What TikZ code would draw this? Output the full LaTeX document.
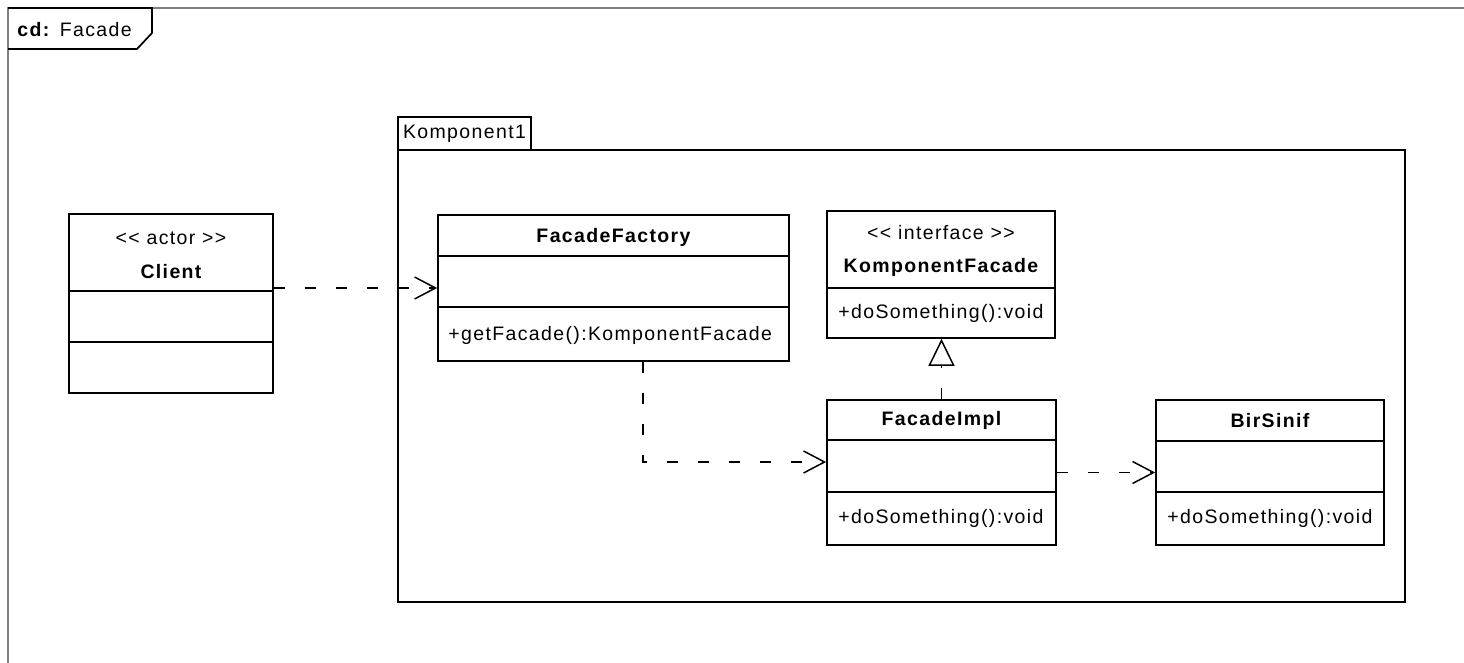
\documentclass[tikz,border=0pt]{standalone}
\usepackage{fontspec}
\setmainfont[LetterSpace=7]{Liberation Sans}
\usetikzlibrary{arrows.meta, positioning}

\begin{document}
\begin{tikzpicture}[
  x=0.5pt, y=-0.5pt,
  font=\fontsize{9.75pt}{12pt}\selectfont,
  cls/.style={draw, line width=0.85pt, fill=white, inner sep=1pt},
  sep/.style={line width=0.85pt},
  title/.style={font=\fontsize{9.75pt}{12pt}\selectfont\bfseries, inner sep=1pt},
  stereo/.style={inner sep=1pt},
  op/.style={anchor=west, inner sep=1pt},
  dep/.style={line width=0.85pt, dash pattern=on 5.5pt off 10pt,
              -{Straight Barb[length=10.5pt, width=11pt, line width=0.75pt]}},
  real/.style={line width=0.85pt, dash pattern=on 5.5pt off 10pt,
              -{Triangle[open, length=13.5pt, width=13pt, line width=0.75pt]}},
]
\useasboundingbox (0,0) rectangle (1464,663);

\draw[black!50, line width=1pt] (8,663) -- (8,8) -- (1464,8);
\draw[line width=0.85pt] (8,8) -- (152,8) -- (152,33) -- (137,49) -- (8,49);
\node[anchor=west, inner sep=0pt] (frame) at (17,30) {\textbf{cd:} Facade};

\node[cls, minimum width=66.5pt, minimum height=16.5pt] (pkgtab) at (464.5,133.5) {Komponent1};
\node[cls, fill=none, minimum width=503.5pt, minimum height=226pt] (pkg) at (901.5,376) {};

\node[cls, minimum width=102pt, minimum height=89.5pt] (client) at (171,303.5) {};
\draw[sep] (client.west |- 0,291) -- (client.east |- 0,291);
\draw[sep] (client.west |- 0,342) -- (client.east |- 0,342);
\node[stereo] (client-st) at (171,238) {<{}< actor >{}>};
\node[title] (client-name) at (171,272) {Client};

\node[cls, minimum width=175.5pt, minimum height=73pt] (factory) at (613.5,288) {};
\draw[sep] (factory.west |- 0,256) -- (factory.east |- 0,256);
\draw[sep] (factory.west |- 0,307) -- (factory.east |- 0,307);
\node[title] (factory-name) at (613.5,237) {FacadeFactory};
\node[op] (factory-op) at (446,335) {+getFacade():KomponentFacade};

\node[cls, minimum width=114pt, minimum height=63.5pt] (iface) at (941,274.5) {};
\draw[sep] (iface.west |- 0,288) -- (iface.east |- 0,288);
\node[stereo] (iface-st) at (941,233) {<{}< interface >{}>};
\node[title] (iface-name) at (941,267) {KomponentFacade};
\node[op] (iface-op) at (836,313) {+doSomething():void};

\node[cls, minimum width=114.5pt, minimum height=72.5pt] (impl) at (941.5,472.5) {};
\draw[sep] (impl.west |- 0,440) -- (impl.east |- 0,440);
\draw[sep] (impl.west |- 0,492) -- (impl.east |- 0,492);
\node[title] (impl-name) at (941.5,420) {FacadeImpl};
\node[op] (impl-op) at (836,518) {+doSomething():void};

\node[cls, minimum width=114pt, minimum height=72.5pt] (bir) at (1270,472.5) {};
\draw[sep] (bir.west |- 0,441) -- (bir.east |- 0,441);
\draw[sep] (bir.west |- 0,492) -- (bir.east |- 0,492);
\node[title] (bir-name) at (1270,421) {BirSinif};
\node[op] (bir-op) at (1165,518) {+doSomething():void};

\draw[dep] (factory.west -| client.east) -- (factory.west);
\draw[dep] ([xshift=14.75pt]factory.south) |- ([yshift=5.25pt]impl.west);
\draw[dep] (impl) -- (bir);
\draw[real] (impl.north) -- (impl.north |- iface.south);
\end{tikzpicture}
\end{document}
